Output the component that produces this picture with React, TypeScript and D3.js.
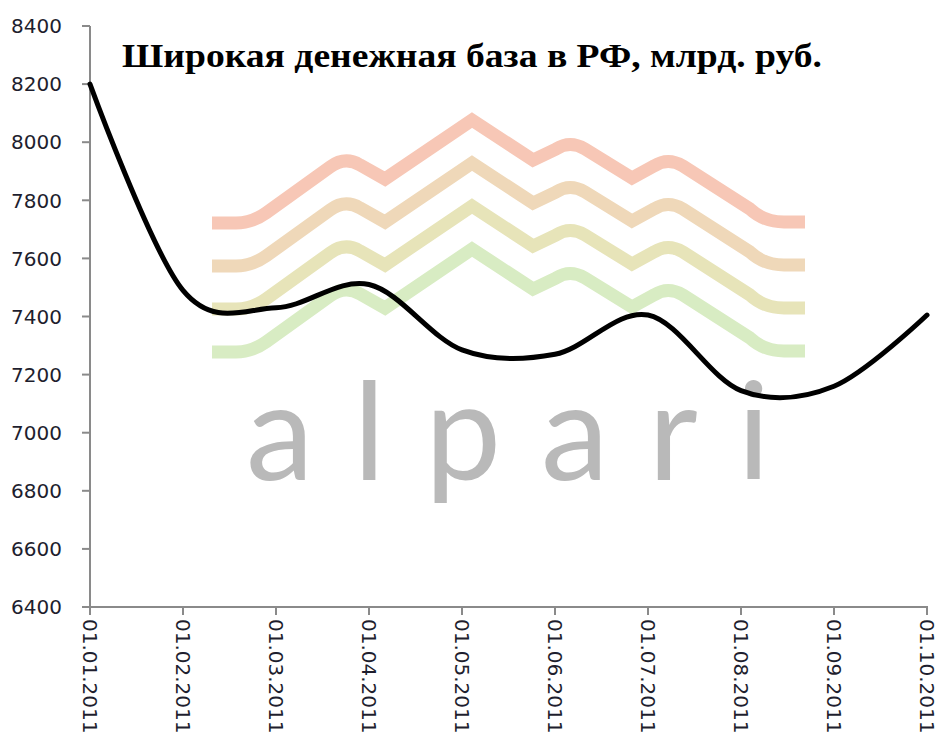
import React, { useRef, useEffect } from 'react';
import * as d3 from 'd3';

const dates = ['01.01.2011', '01.02.2011', '01.03.2011', '01.04.2011', '01.05.2011',
    '01.06.2011', '01.07.2011', '01.08.2011', '01.09.2011', '01.10.2011'];
const baseValues = [8200, 7490, 7430, 7510, 7285, 7270, 7405, 7145, 7160, 7405];
const yTicks = [6400, 6600, 6800, 7000, 7200, 7400, 7600, 7800, 8000, 8200, 8400];

const TITLE = 'Широкая денежная база в РФ, млрд. руб.';
const WATERMARK = 'alpari';
const stripeColors = ['#f7c7b6', '#efd8b9', '#e7e4b9', '#d8ecc3'];

const WIDTH = 938;
const HEIGHT = 742;
const AXIS_COLOR = '#8a8a8a';

// logo zigzag, top stripe; the others are shifted down
const LOGO_PATH = 'M212,223 L236,223 Q252,223 266,213 L330,167 Q345,156 360,165 L385,179 L472,120 L533,160 L556,149 Q570,140 585,149 L632,178 L654,166 Q668,157 683,166 L750,209 Q764,222 784,222 L805,222';
const STRIPE_STEP = 43;

const App: React.FC = () => {
    const svgRef = useRef<SVGSVGElement>(null);

    useEffect(() => {
        if (!svgRef.current) return;
        const svg = d3.select(svgRef.current);
        svg.selectAll('*').remove();

        const xScale = d3.scalePoint<string>()
            .domain(dates)
            .range([90, 927]);

        const yScale = d3.scaleLinear()
            .domain([6400, 8400])
            .range([607, 26]);

        svg.append('rect')
            .attr('width', WIDTH)
            .attr('height', HEIGHT)
            .attr('fill', '#ffffff');

        // watermark
        const logo = svg.append('g').attr('class', 'watermark');
        stripeColors.forEach((c, i) => {
            logo.append('path')
                .attr('d', LOGO_PATH)
                .attr('transform', `translate(0, ${i * STRIPE_STEP})`)
                .attr('fill', 'none')
                .attr('stroke', c)
                .attr('stroke-width', 13);
        });

        logo.append('text')
            .attr('x', 246)
            .attr('y', 480)
            .attr('textLength', 524)
            .attr('lengthAdjust', 'spacing')
            .attr('fill', '#b9b9b9')
            .style('font-family', 'Lato, "Open Sans", sans-serif')
            .style('font-weight', 400)
            .style('font-size', '136px')
            .text(WATERMARK);

        // y axis
        const yAxis = svg.append('g').attr('class', 'y-axis');
        yAxis.append('line')
            .attr('x1', 90).attr('x2', 90)
            .attr('y1', yScale(8400)).attr('y2', yScale(6400))
            .attr('stroke', AXIS_COLOR)
            .attr('stroke-width', 2);
        yAxis.selectAll('.tick')
            .data(yTicks)
            .join('line')
            .attr('x1', 82).attr('x2', 90)
            .attr('y1', d => yScale(d)).attr('y2', d => yScale(d))
            .attr('stroke', AXIS_COLOR)
            .attr('stroke-width', 2);
        yAxis.selectAll('text')
            .data(yTicks)
            .join('text')
            .attr('x', 62)
            .attr('y', d => yScale(d))
            .attr('dy', '0.36em')
            .attr('text-anchor', 'end')
            .attr('fill', '#1e1e2e')
            .style('font-family', '"DejaVu Sans", Verdana, sans-serif')
            .style('font-size', '20px')
            .text(d => String(d));

        // x axis
        const xAxis = svg.append('g').attr('class', 'x-axis');
        xAxis.append('line')
            .attr('x1', 82).attr('x2', 928)
            .attr('y1', 607).attr('y2', 607)
            .attr('stroke', AXIS_COLOR)
            .attr('stroke-width', 2);
        xAxis.selectAll('.tick')
            .data(dates)
            .join('line')
            .attr('x1', d => xScale(d)!).attr('x2', d => xScale(d)!)
            .attr('y1', 607).attr('y2', 615)
            .attr('stroke', AXIS_COLOR)
            .attr('stroke-width', 2);
        xAxis.selectAll('text')
            .data(dates)
            .join('text')
            .attr('transform', d => `translate(${xScale(d)}, 619) rotate(90)`)
            .attr('dy', '0.36em')
            .attr('fill', '#1e1e2e')
            .style('font-family', '"DejaVu Sans", Verdana, sans-serif')
            .style('font-size', '20px')
            .text(d => d);

        // series line, smoothed like Excel
        const line = d3.line<number>()
            .x((_, i) => xScale(dates[i])!)
            .y(d => yScale(d))
            .curve(d3.curveCardinal.tension(0));

        svg.append('path')
            .attr('d', line(baseValues) || '')
            .attr('fill', 'none')
            .attr('stroke', '#000')
            .attr('stroke-width', 5)
            .attr('stroke-linejoin', 'round')
            .attr('stroke-linecap', 'round');

        // title
        svg.append('text')
            .attr('x', 122)
            .attr('y', 67)
            .attr('textLength', 700)
            .attr('lengthAdjust', 'spacingAndGlyphs')
            .attr('fill', '#000')
            .style('font-family', '"Liberation Serif", "Times New Roman", serif')
            .style('font-weight', 'bold')
            .style('font-size', '33px')
            .text(TITLE);

        return () => {
            svg.selectAll('*').remove();
        };
    }, []);

    return (
        <svg
            ref={svgRef}
            width={WIDTH}
            height={HEIGHT}
            style={{ position: 'absolute', left: 0, top: 0, display: 'block' }}
        />
    );
};

export default App;
